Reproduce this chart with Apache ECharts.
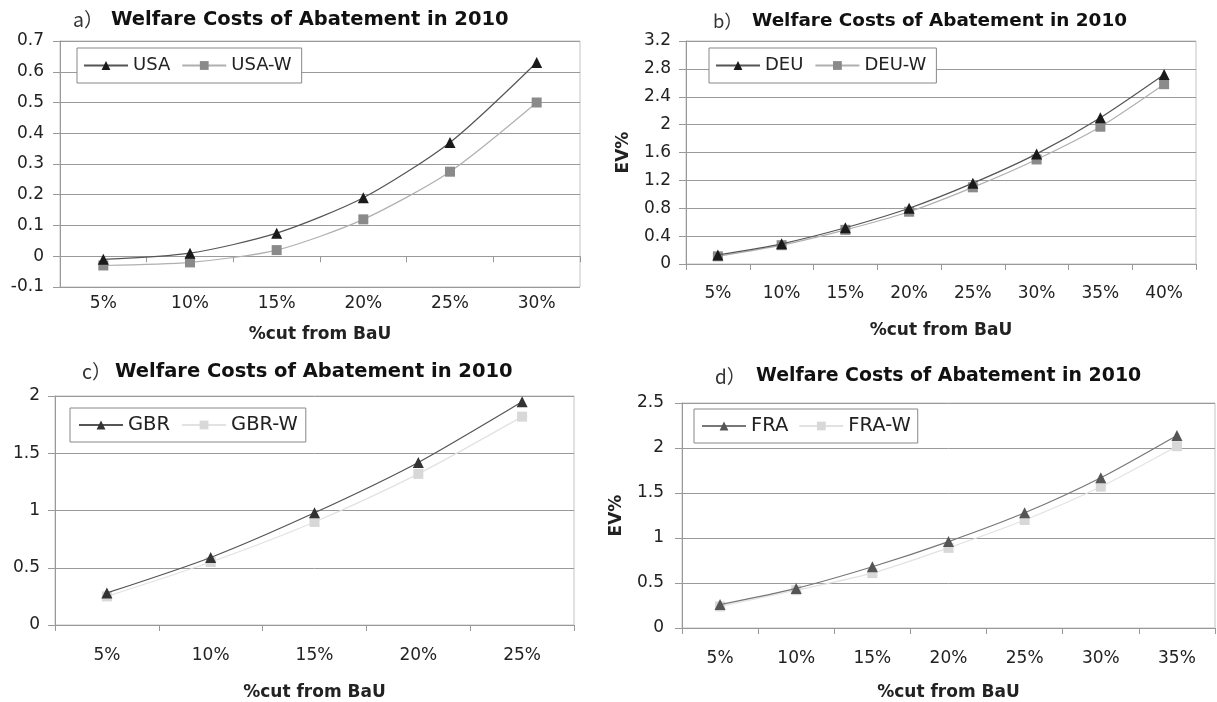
<!DOCTYPE html>
<html><head><meta charset="utf-8">
<script src="https://cdn.jsdelivr.net/npm/echarts@6/dist/echarts.min.js"></script>
<style>html,body{margin:0;padding:0;background:#fff}#c{width:1217px;height:702px}</style>
</head><body><div id="c"></div>
<script>
// ---- data ----
const titleText = 'Welfare Costs of Abatement in 2010';
const xName = '%cut from BaU';
const catsA = ['5%', '10%', '15%', '20%', '25%', '30%'];
const usa = [-0.01, 0.01, 0.075, 0.19, 0.37, 0.63];
const usaW = [-0.03, -0.02, 0.02, 0.12, 0.275, 0.50];
const catsB = ['5%', '10%', '15%', '20%', '25%', '30%', '35%', '40%'];
const deu = [0.13, 0.29, 0.52, 0.80, 1.16, 1.58, 2.10, 2.72];
const deuW = [0.11, 0.27, 0.49, 0.75, 1.10, 1.50, 1.97, 2.58];
const catsC = ['5%', '10%', '15%', '20%', '25%'];
const gbr = [0.28, 0.59, 0.98, 1.42, 1.95];
const gbrW = [0.25, 0.55, 0.90, 1.32, 1.82];
const catsD = ['5%', '10%', '15%', '20%', '25%', '30%', '35%'];
const fra = [0.26, 0.44, 0.68, 0.96, 1.28, 1.67, 2.14];
const fraW = [0.24, 0.42, 0.61, 0.89, 1.20, 1.57, 2.02];

const FONT = '"DejaVu Sans", "Liberation Sans", Arial, sans-serif';
const panels = [
  {tag: 'a）', cats: catsA, s1: ['USA', usa], s2: ['USA-W', usaW], min: -0.1, max: 0.7, step: 0.1, yName: '',
   grid: {left: 60, top: 41, width: 520, height: 246}, title: {left: 73, top: 10, size: 19.5, tagW: 38},
   legend: {left: 77, top: 48, size: 18, pad: [8, 10, 8, 6], gap: 11}, lblMargin: 8, nameGap: 39, yMargin: 16,
   c1: ['#555', '#1a1a1a'], c2: ['#b0b0b0', '#8a8a8a']},
  {tag: 'b）', cats: catsB, s1: ['DEU', deu], s2: ['DEU-W', deuW], min: 0, max: 3.2, step: 0.4, yName: 'EV%',
   grid: {left: 686, top: 41, width: 510, height: 223}, title: {left: 713, top: 12, size: 18.4, tagW: 39},
   legend: {left: 709, top: 48, size: 18, pad: [8, 10, 8, 6], gap: 11}, lblMargin: 21, nameGap: 58, yMargin: 15, yNameGap: 54,
   c1: ['#555', '#1a1a1a'], c2: ['#b0b0b0', '#8a8a8a']},
  {tag: 'c）', cats: catsC, s1: ['GBR', gbr], s2: ['GBR-W', gbrW], min: 0, max: 2, step: 0.5, yName: '',
   grid: {left: 55, top: 396, width: 519, height: 229}, title: {left: 82, top: 362, size: 19.5, tagW: 33},
   legend: {left: 70, top: 408, size: 19.5, pad: [7, 8, 7, 8], gap: 11}, lblMargin: 22, nameGap: 59, yMargin: 15,
   c1: ['#555', '#333'], c2: ['#e2e2e2', '#d8d8d8']},
  {tag: 'd）', cats: catsD, s1: ['FRA', fra], s2: ['FRA-W', fraW], min: 0, max: 2.5, step: 0.5, yName: 'EV%',
   grid: {left: 682, top: 403, width: 533, height: 225}, title: {left: 715, top: 367, size: 18.9, tagW: 41},
   legend: {left: 694, top: 409, size: 19.5, pad: [7, 7, 7, 7], gap: 10}, lblMargin: 22, nameGap: 56, yMargin: 18, yNameGap: 57,
   c1: ['#777', '#555'], c2: ['#e2e2e2', '#d8d8d8']}
];

const option = {animation: false, backgroundColor: '#fff', title: [], legend: [], grid: [], xAxis: [], yAxis: [], series: []};
panels.forEach((p, i) => {
  option.title.push({
    left: p.title.left, top: p.title.top, padding: 0,
    text: '{p|' + p.tag + '}{b|' + titleText + '}',
    textStyle: {rich: {
      p: {fontFamily: '"Noto Sans CJK SC", ' + FONT, fontSize: p.title.size, fontWeight: 'normal', color: '#333', width: p.title.tagW},
      b: {fontFamily: FONT, fontSize: p.title.size, fontWeight: 'bold', color: '#111'}
    }}
  });
  option.grid.push(Object.assign({show: true, borderColor: '#c4c4c4', borderWidth: 1, backgroundColor: 'transparent'}, p.grid));
  option.legend.push({
    left: p.legend.left, top: p.legend.top, orient: 'horizontal',
    data: [p.s1[0], p.s2[0]],
    backgroundColor: '#fff', borderColor: '#888', borderWidth: 1,
    padding: p.legend.pad, itemWidth: 44, itemHeight: 11, itemGap: p.legend.gap,
    textStyle: {fontFamily: FONT, fontSize: p.legend.size, color: '#222', lineHeight: 19},
    z: 10
  });
  option.xAxis.push({
    type: 'category', gridIndex: i, data: p.cats, boundaryGap: true,
    name: xName, nameLocation: 'middle', nameGap: p.nameGap,
    nameTextStyle: {fontFamily: FONT, fontSize: 17, fontWeight: 'bold', color: '#222'},
    axisLine: {show: true, onZero: true, lineStyle: {color: '#999', width: 1}},
    axisTick: {show: true, alignWithLabel: false, length: 6, lineStyle: {color: '#999'}},
    axisLabel: {margin: p.lblMargin, fontFamily: FONT, fontSize: 17, color: '#222'},
    splitLine: {show: false}
  });
  option.yAxis.push({
    type: 'value', gridIndex: i, min: p.min, max: p.max, interval: p.step,
    name: p.yName, nameLocation: 'middle', nameGap: p.yNameGap || 40, nameRotate: 90,
    nameTextStyle: {fontFamily: FONT, fontSize: 17, fontWeight: 'bold', color: '#222'},
    axisLine: {show: true, lineStyle: {color: '#999', width: 1}},
    axisTick: {show: true, length: 7, lineStyle: {color: '#999'}},
    axisLabel: {margin: p.yMargin, fontFamily: FONT, fontSize: 17, color: '#222'},
    splitLine: {show: true, lineStyle: {color: '#9a9a9a', width: 1}}
  });
  option.series.push({
    name: p.s1[0], type: 'line', xAxisIndex: i, yAxisIndex: i, data: p.s1[1],
    smooth: 0.25, symbol: 'triangle', symbolSize: 11,
    lineStyle: {color: p.c1[0], width: 1.2}, itemStyle: {color: p.c1[1]}, z: 3
  });
  option.series.push({
    name: p.s2[0], type: 'line', xAxisIndex: i, yAxisIndex: i, data: p.s2[1],
    smooth: 0.25, symbol: 'rect', symbolSize: 10,
    lineStyle: {color: p.c2[0], width: 1.2}, itemStyle: {color: p.c2[1]}, z: 2
  });
});

const chart = echarts.init(document.getElementById('c'), null, {renderer: 'canvas'});
chart.setOption(option);
</script>
</body></html>
